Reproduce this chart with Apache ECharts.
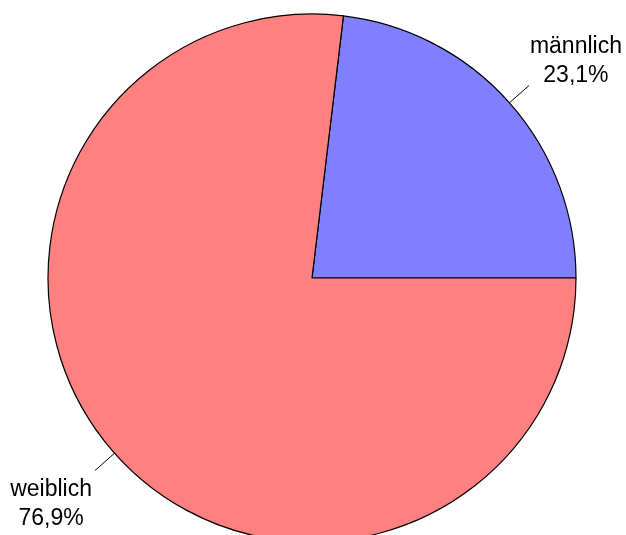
<!DOCTYPE html>
<html>
<head>
<meta charset="utf-8">
<script src="https://cdn.jsdelivr.net/npm/echarts@6/dist/echarts.min.js"></script>
<style>
  html, body { margin: 0; padding: 0; background: #fff; }
  #chart { width: 626px; height: 535px; }
</style>
</head>
<body>
<div id="chart"></div>
<script>
  // Geschlechterverteilung
  var categories = ['männlich', 'weiblich'];
  var shares = [23.1, 76.9];
  var colors = ['#8080ff', '#ff8080'];

  // Verschiebung der Beschriftung gegenüber dem Ende der Führungslinie
  var labelOffsets = [[47, -24], [-44, 34]];

  var chart = echarts.init(document.getElementById('chart'));
  var option = {
    animation: false,
    backgroundColor: '#ffffff',
    series: [{
      type: 'pie',
      center: [312, 278],
      radius: 264,
      startAngle: 0,
      clockwise: false,
      avoidLabelOverlap: false,
      emphasis: { disabled: true },
      itemStyle: { borderColor: '#000', borderWidth: 1.2 },
      label: {
        show: true,
        position: 'outside',
        color: '#000',
        fontFamily: 'Liberation Sans, Arial, sans-serif',
        fontSize: 23,
        lineHeight: 29,
        align: 'center',
        formatter: function (p) {
          return p.name + '\n' + p.value.toFixed(1).replace('.', ',') + '%';
        }
      },
      labelLine: {
        show: true,
        length: 26,
        length2: 0,
        lineStyle: { color: '#000', width: 1 }
      },
      labelLayout: function (p) {
        var pts = p.labelLinePoints;
        var end = pts[pts.length - 1];
        var off = labelOffsets[p.dataIndex];
        return {
          x: end[0] + off[0],
          y: end[1] + off[1],
          align: 'center',
          verticalAlign: 'middle',
          labelLinePoints: pts
        };
      },
      data: categories.map(function (c, i) {
        return { name: c, value: shares[i], itemStyle: { color: colors[i] } };
      })
    }]
  };
  chart.setOption(option);
</script>
</body>
</html>
